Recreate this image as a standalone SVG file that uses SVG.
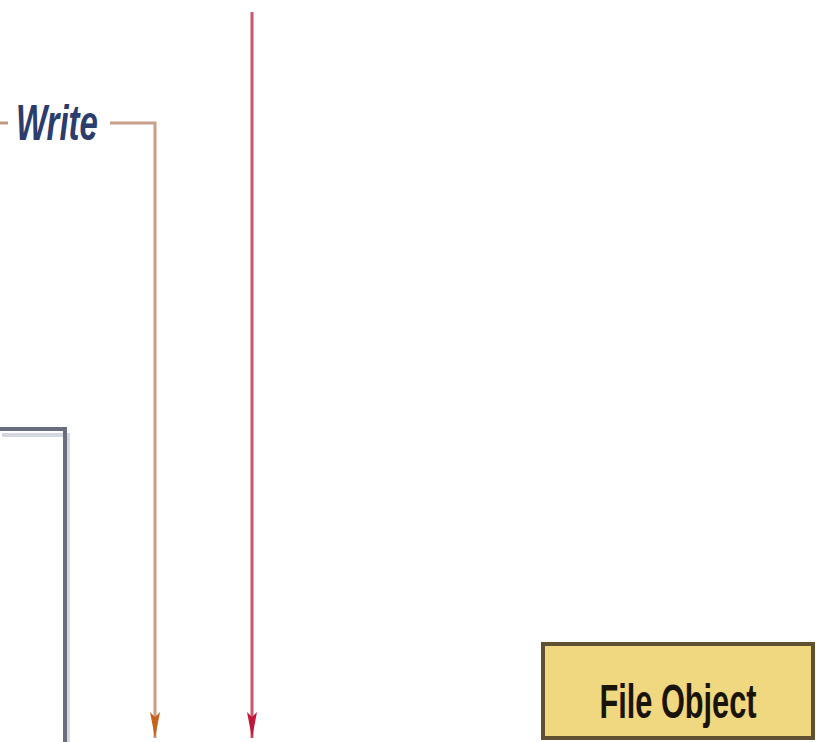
<svg xmlns="http://www.w3.org/2000/svg" width="821" height="742" viewBox="0 0 821 742">
<defs>
<style>
.lbl{font-family:"Liberation Sans",Arial,sans-serif}
</style>
<marker id="ao" viewBox="0 0 26 14" refX="26" refY="7" markerWidth="26" markerHeight="14" orient="auto" markerUnits="userSpaceOnUse"><path d="M0,2 L26,7 L0,12 L5,7 z" fill="#c8601e"/></marker>
<marker id="ar" viewBox="0 0 26 14" refX="26" refY="7" markerWidth="26" markerHeight="14" orient="auto" markerUnits="userSpaceOnUse"><path d="M0,2 L26,7 L0,12 L5,7 z" fill="#c0183a"/></marker>
</defs>
<rect width="821" height="742" fill="#ffffff"/>
<g id="container">
<path d="M0,432 H66 V742" fill="none" stroke="#d4d6e0" stroke-width="4" transform="translate(2,3)"/>
<path d="M0,429 H65 V742" fill="none" stroke="#6a6e7c" stroke-width="4"/>
</g>
<g id="connectors">
<path d="M0,123 H8" fill="none" stroke="#c09a80" stroke-width="3"/>
<path d="M110,123 H155 V738" fill="none" stroke="#c8a088" stroke-width="3" marker-end="url(#ao)"/>
<path d="M252,12 V738" fill="none" stroke="#c85a6a" stroke-width="3" marker-end="url(#ar)"/>
</g>
<g id="write-label">
<text class="lbl" transform="translate(16,140) scale(0.66,1)" font-size="50" font-style="italic" font-weight="bold" fill="#2c3c6c">Write</text>
</g>
<g id="file-object">
<rect x="543" y="644" width="270" height="94" fill="#f0d880" stroke="#5e5030" stroke-width="4"/>
<text class="lbl" transform="translate(678,718) scale(0.64,1)" font-size="48" font-weight="bold" fill="#1a1408" text-anchor="middle">File Object</text>
</g>
</svg>
